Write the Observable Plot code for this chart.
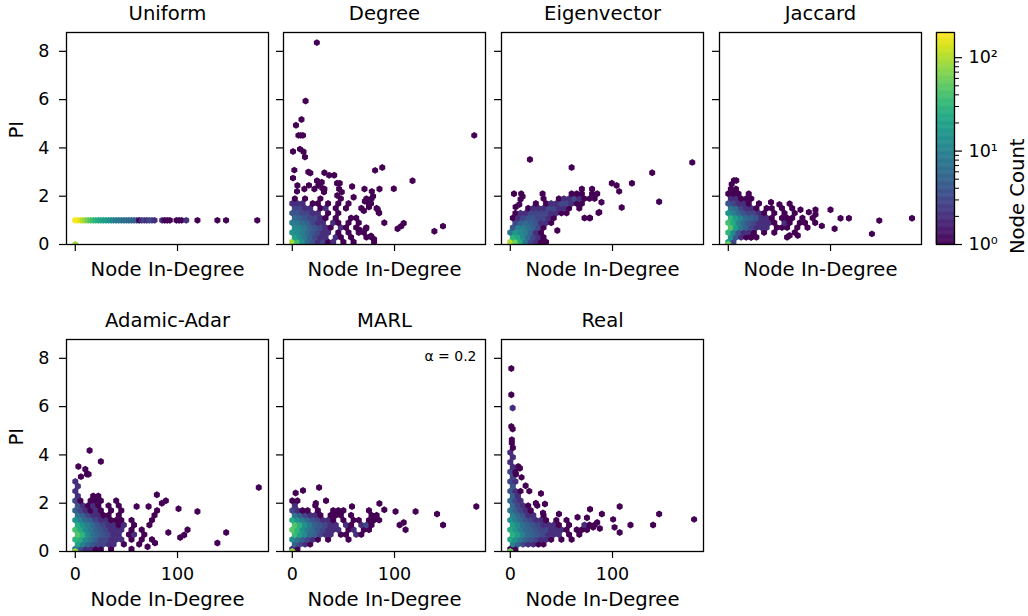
<!DOCTYPE html>
<html>
<head>
<meta charset="utf-8">
<script src="https://cdn.jsdelivr.net/npm/d3@7"></script>
<script src="https://cdn.jsdelivr.net/npm/@observablehq/plot@0.6"></script>
<style>
  body { margin: 0; background: #fff; }
  #fig { position: relative; width: 1028px; height: 616px; overflow: hidden; background: #fff;
         font-family: "DejaVu Sans", sans-serif; }
  #fig svg { position: absolute; }
</style>
</head>
<body>
<div id="fig"></div>
<script>
// ---- Axes and scales -------------------------------------------------------
const xTicks = [0, 100];
const yTicks = [0, 2, 4, 6, 8];
const xDomain = [-8.6, 189];
const yDomain = [0, 8.78];
const countDomain = [1, 186];
const countMajorTicks = [1, 10, 100];
const countMinorTicks = [2, 3, 4, 5, 6, 7, 8, 9, 20, 30, 40, 50, 60, 70, 80, 90];
const xLabel = "Node In-Degree";
const yLabel = "PI";
const colorLabel = "Node Count";
const panelTitles = ["Uniform", "Degree", "Eigenvector", "Jaccard", "Adamic-Adar", "MARL", "Real"];
const marlNote = "α = 0.2";

// ---- Hexbin cells: rows are [PI, [[in-degree, node count], ...]] ---------
// single cells are [in-degree, PI, node count (default 1)]
const uniformSingles = [
  [0, 0, 90],
  [0, 1, 170], [2.5, 1, 186], [5, 1, 140], [7.5, 1, 105], [10, 1, 80], [12.5, 1, 60], [15, 1, 45],
  [17.5, 1, 36], [20, 1, 30], [22.5, 1, 26], [25, 1, 23], [27.5, 1, 20], [30, 1, 18], [32.5, 1, 16],
  [35, 1, 14], [37.5, 1, 10], [40, 1, 9], [42.5, 1, 8], [45, 1, 8], [47.5, 1, 7], [50, 1, 7],
  [52.5, 1, 6], [55, 1, 6], [57.5, 1, 5], [60, 1, 5], [62.5, 1, 1], [65, 1, 2], [67.5, 1, 3],
  [70, 1, 2], [72.5, 1, 3], [75, 1, 3], [77.5, 1, 2], [85, 1, 2], [87.5, 1, 1], [90, 1, 1],
  [92.5, 1, 1], [99, 1, 1], [101.5, 1, 1], [104, 1, 1], [108.5, 1, 2], [119.5, 1, 1],
  [139, 1, 1], [147.5, 1, 1], [178, 1, 1]
];

const degreeRows = [
  [0.1, [[0,90],[5,35],[10,14],[15,6],[20,4],[25,2],[30,3],[35,1],[40,2],[50,1],[60,1],[80,1]]],
  [0.3, [[2.5,20],[7.5,12],[12.5,8],[17.5,5],[22.5,3],[27.5,2],[32.5,2],[42.5,2],[47.5,1],[57.5,1],[72.5,1],[77.5,1]]],
  [0.5, [[0,15],[5,12],[10,9],[15,6],[20,4],[25,3],[30,2],[35,2],[45,1],[55,1],[65,1],[70,1]]],
  [0.7, [[2.5,12],[7.5,10],[12.5,8],[17.5,5],[22.5,4],[27.5,3],[32.5,2],[37.5,1],[47.5,2],[52.5,1],[62.5,1],[72.5,1]]],
  [0.9, [[0,9],[5,8],[10,6],[15,5],[20,3],[25,2],[30,2],[40,2],[45,1],[55,1],[65,1],[90,1]]],
  [1.1, [[2.5,6],[7.5,5],[12.5,4],[17.5,3],[22.5,3],[27.5,2],[32.5,1],[42.5,1],[57.5,1],[62.5,1]]],
  [1.3, [[0,4],[5,4],[10,3],[15,3],[20,2],[25,2],[35,1],[45,1],[85,1]]],
  [1.5, [[2.5,3],[7.5,3],[12.5,2],[17.5,2],[27.5,1],[32.5,2],[42.5,1],[52.5,1],[67.5,1],[82.5,1]]],
  [1.7, [[0,2],[5,2],[10,2],[20,1],[25,1],[35,1],[45,1],[55,1],[75,1]]],
  [1.9, [[2.5,1],[12.5,1],[27.5,1],[47.5,1],[72.5,1],[77.5,1]]]
];
const degreeSingles = [
  [24,8.36],[13,5.94],[9,5.18],[3.6,4.94],[6,4.52],[8.3,4.52],[10.5,4.52],[178,4.52],[0.7,3.85],
  [7.5,3.95],[11,3.84],[12.4,3.62],[2,3.08],[0.7,2.75],[15.7,3.0],[17.6,2.96],[31.4,2.97],[36,2.87],
  [41,2.87],[88,3.19],[81,3.07],[117.6,2.64],[99.3,2.31],[70.6,2.3],[77.8,2.2],[85.3,2.3],[58.5,2.4],
  [43.8,2.54],[46.4,2.54],[24.2,2.64],[28.8,2.58],[31.4,2.3],[21.6,2.3],[4.6,2.2],[11.8,2.3],[16.3,2.45],
  [5,2.44],[25.5,2.44],[29.4,2.33],[31,2.17],[45.8,2.3],[48.4,2.17],[44,2.03],
  [139,0.55],[147.4,0.76],[103,0.65],[106.5,0.76],[109,0.88],[80,0.22],[77,0.35],[72,0.65],
  [83.6,1.45],[84.6,1.33],[70,1.4],[77,1.7],[79,2.0],[75,1.55],[66,0.6],[60,1.96],[71,1.79]
];

const eigenRows = [
  [0.1, [[0,100],[5,60],[10,25],[15,8],[20,3],[25,2],[30,1],[35,1]]],
  [0.3, [[2.5,30],[7.5,24],[12.5,12],[17.5,6],[22.5,3],[27.5,2],[32.5,1]]],
  [0.5, [[0,8],[5,16],[10,12],[15,9],[20,5],[25,2],[30,1]]],
  [0.7, [[2.5,4],[7.5,10],[12.5,9],[17.5,7],[22.5,5],[27.5,3],[32.5,1]]],
  [0.9, [[5,3],[10,5],[15,6],[20,5],[25,4],[30,2],[35,2],[40,1]]],
  [1.1, [[2.5,1],[7.5,2],[12.5,3],[17.5,4],[22.5,4],[27.5,3],[32.5,3],[37.5,2],[42.5,1],[77.5,1]]],
  [1.3, [[5,1],[10,2],[15,2],[20,3],[25,3],[30,3],[35,3],[40,2],[45,2],[50,1],[55,1]]],
  [1.5, [[17.5,1],[22.5,2],[27.5,2],[32.5,2],[37.5,3],[42.5,3],[47.5,2],[52.5,2],[57.5,1],[67.5,1]]],
  [1.7, [[25,1],[35,1],[40,2],[45,2],[50,3],[55,3],[60,2],[65,1],[70,1]]],
  [1.9, [[32.5,1],[47.5,1],[52.5,2],[57.5,2],[62.5,3],[67.5,2],[72.5,1],[77.5,1],[82.5,1]]],
  [2.1, [[60,1],[65,1],[70,1],[80,1],[85,1]]],
  [2.3, [[70,1],[80,1]]]
];
const eigenSingles = [
  [19.2,3.52],[60,3.19],[178,3.4],[138.8,2.97],[99.3,2.54],[104,2.44],[119,2.54],[106.5,2.2],
  [145.6,1.77],[109,1.53],[46,0.58],[78,1.1],[87,1.34],[3.6,2.1],[10.7,2.1],[12,1.99],[10,1.87],
  [5.2,1.55],[8.8,1.66],[31.6,2.1],[89.2,1.75],[86.3,1.31],[72.6,1.1]
];

const jaccardRows = [
  [0.1, [[0,20],[5,3]]],
  [0.3, [[2.5,15],[7.5,4],[12.5,2],[17.5,1],[22.5,1],[27.5,1],[57.5,1]]],
  [0.5, [[0,30],[5,12],[10,4],[15,2],[20,2],[25,1],[35,1],[45,1],[65,1]]],
  [0.7, [[2.5,45],[7.5,18],[12.5,8],[17.5,5],[22.5,3],[27.5,2],[32.5,2],[37.5,2],[47.5,1],[52.5,1],[57.5,1],[67.5,1],[77.5,1]]],
  [0.9, [[0,40],[5,25],[10,10],[15,6],[20,4],[25,3],[30,2],[35,2],[40,2],[45,1],[55,2],[60,1],[70,1],[75,1],[85,1]]],
  [1.1, [[2.5,30],[7.5,18],[12.5,10],[17.5,6],[22.5,5],[27.5,4],[32.5,2],[37.5,2],[42.5,1],[52.5,1],[57.5,1],[62.5,1],[72.5,1],[82.5,1]]],
  [1.3, [[0,15],[5,10],[10,6],[15,4],[20,3],[25,3],[30,2],[35,1],[45,1],[55,1],[65,1]]],
  [1.5, [[2.5,8],[7.5,6],[12.5,3],[17.5,2],[22.5,2],[27.5,1],[37.5,1],[42.5,1],[52.5,1],[62.5,1]]],
  [1.7, [[0,4],[5,3],[10,2],[15,2],[20,1],[30,1]]],
  [1.9, [[2.5,2],[7.5,2],[12.5,1],[17.5,1],[22.5,1]]],
  [2.1, [[0,1],[5,1],[10,1],[20,1]]],
  [2.3, [[2.5,1],[7.5,1]]]
];
const jaccardSingles = [
  [0,0,60],[5.5,2.65],[7.8,2.65],[3.3,2.5],[41.8,1.75],[50,1.66],[60,1.69],[70.6,1.44],[78.8,1.34],
  [85.3,1.44],[85.3,1.24],[100,1.44],[91.5,0.77],[104,0.65],[109.8,1.09],[118,1.09],[140.5,0.44],
  [147.7,0.99],[179.7,1.09],[68,0.37],[60,0.37],[22,0.3]
];

const adamicRows = [
  [0.1, [[0,8],[5,4],[10,2],[15,2],[20,1],[25,1],[35,1],[55,1]]],
  [0.3, [[2.5,20],[7.5,10],[12.5,6],[17.5,4],[22.5,3],[27.5,3],[32.5,2],[37.5,2],[47.5,1],[62.5,1]]],
  [0.5, [[0,30],[5,25],[10,12],[15,8],[20,5],[25,3],[30,3],[35,2],[40,2],[45,2],[55,1],[65,1],[75,1]]],
  [0.7, [[2.5,45],[7.5,30],[12.5,12],[17.5,7],[22.5,5],[27.5,4],[32.5,3],[37.5,2],[42.5,2],[52.5,1],[57.5,2],[67.5,1]]],
  [0.9, [[0,40],[5,25],[10,12],[15,8],[20,5],[25,4],[30,3],[35,2],[40,2],[45,2],[55,1],[65,1]]],
  [1.1, [[2.5,25],[7.5,15],[12.5,9],[17.5,6],[22.5,4],[27.5,3],[32.5,2],[37.5,2],[42.5,1],[47.5,2],[57.5,1],[72.5,1]]],
  [1.3, [[0,15],[5,10],[10,6],[15,5],[20,3],[25,2],[30,2],[35,1],[40,1],[45,1],[55,1],[75,1]]],
  [1.5, [[2.5,8],[7.5,5],[12.5,3],[17.5,2],[22.5,2],[27.5,1],[32.5,1],[42.5,1],[77.5,1]]],
  [1.7, [[0,5],[5,3],[10,2],[15,1],[20,2],[25,1],[35,1],[45,1],[80,1]]],
  [1.9, [[2.5,4],[7.5,2],[12.5,1],[17.5,2],[22.5,1],[32.5,1],[42.5,1]]],
  [2.1, [[0,3],[5,1],[15,1],[20,1],[25,1],[40,1]]],
  [2.3, [[2.5,2],[17.5,1],[22.5,1]]],
  [2.5, [[0,2]]],
  [2.7, [[2.5,2]]],
  [2.9, [[0,2]]]
];
const adamicSingles = [
  [0,0,80],[14,4.18],[25,3.73],[3,3.52],[9.8,3.41],[11.4,3.2],[13,3.2],[5.5,3.1],[179.5,2.65],
  [79.8,2.35],[88.6,2.1],[84.7,2.0],[71.7,1.86],[60,1.86],[101,1.77],[119.5,1.66],[91,0.79],
  [109.8,0.9],[106.5,0.68],[102.6,0.58],[147.6,0.79],[139,0.35],[78,0.35],[70.7,0.2]
];

const marlRows = [
  [0.1, [[0,2],[5,1]]],
  [0.3, [[2.5,5],[7.5,3],[12.5,2],[17.5,1]]],
  [0.5, [[0,12],[5,8],[10,5],[15,3],[20,2],[25,1],[35,1],[55,1]]],
  [0.7, [[2.5,35],[7.5,20],[12.5,12],[17.5,6],[22.5,5],[27.5,3],[32.5,2],[37.5,2],[47.5,1],[52.5,1],[62.5,2],[67.5,1]]],
  [0.9, [[0,50],[5,30],[10,15],[15,8],[20,6],[25,4],[30,3],[35,2],[40,2],[45,2],[55,1],[60,2],[70,1],[75,1]]],
  [1.1, [[2.5,45],[7.5,28],[12.5,14],[17.5,8],[22.5,5],[27.5,4],[32.5,3],[37.5,2],[42.5,2],[52.5,2],[57.5,1],[67.5,2],[72.5,3],[77.5,1]]],
  [1.3, [[0,25],[5,15],[10,9],[15,6],[20,4],[25,3],[30,2],[35,2],[40,1],[50,1],[60,1],[65,1],[75,1],[80,1],[85,1]]],
  [1.5, [[2.5,8],[7.5,5],[12.5,3],[17.5,2],[22.5,2],[27.5,1],[37.5,1],[42.5,1],[47.5,1],[57.5,1],[77.5,1],[82.5,1]]],
  [1.7, [[0,3],[5,2],[10,1],[15,1],[25,1],[40,1],[45,1],[50,1],[75,1]]],
  [1.9, [[2.5,2],[22.5,1]]],
  [2.1, [[0,1],[5,1],[33,1]]]
];
const marlSingles = [
  [0,0,80],[180,1.86],[141.6,1.55],[147.5,1.1],[120.6,1.66],[101,1.66],[105,1.1],[109,1.2],
  [110.8,0.9],[85.2,1.99],[90,1.73],[58.4,1.86],[26.2,2.65],[10.5,2.53],[3.3,2.42],[23,2.0]
];

const realRows = [
  [0.1, [[0,1],[5,1]]],
  [0.3, [[2.5,10],[7.5,5],[12.5,3],[17.5,2],[22.5,2],[27.5,1],[32.5,1]]],
  [0.5, [[0,22],[5,14],[10,8],[15,5],[20,4],[25,3],[30,2],[35,2],[40,1],[50,1],[60,1]]],
  [0.7, [[2.5,28],[7.5,18],[12.5,10],[17.5,6],[22.5,5],[27.5,4],[32.5,3],[37.5,2],[42.5,2],[47.5,2],[57.5,1],[67.5,1]]],
  [0.9, [[0,25],[5,16],[10,9],[15,6],[20,5],[25,4],[30,3],[35,3],[40,2],[45,2],[50,2],[55,1],[65,1],[70,1],[75,1]]],
  [1.1, [[2.5,20],[7.5,12],[12.5,7],[17.5,5],[22.5,4],[27.5,3],[32.5,2],[37.5,2],[42.5,2],[47.5,1],[57.5,1],[72.5,2],[77.5,1],[82.5,1]]],
  [1.3, [[0,15],[5,9],[10,6],[15,4],[20,3],[25,2],[30,2],[35,1],[45,1],[55,1]]],
  [1.5, [[2.5,10],[7.5,6],[12.5,4],[17.5,2],[22.5,2],[32.5,1]]],
  [1.7, [[0,8],[5,5],[10,3],[15,2],[20,1]]],
  [1.9, [[2.5,6],[7.5,3],[12.5,2],[17.5,1]]],
  [2.1, [[0,6],[5,3],[10,2]]],
  [2.3, [[2.5,5],[7.5,2]]],
  [2.5, [[0,4],[5,2]]],
  [2.7, [[2.5,4]]],
  [2.9, [[0,3],[5,2]]],
  [3.1, [[2.5,3]]],
  [3.3, [[0,3],[5,1]]],
  [3.5, [[2.5,2]]],
  [3.7, [[0,2]]],
  [3.9, [[2.5,2]]],
  [4.1, [[0,2]]],
  [4.3, [[2.5,1]]]
];
const realSingles = [
  [0,0,60],[1,7.58],[1,6.49],[2.3,5.94,2],[1,5.18],[2.3,5.07],[1.5,4.63],[1.5,4.49],
  [7.8,3.52],[9.4,3.45],[5.5,3.2],[11,3.07],[15,2.72],[10,2.5],[18.6,2.5],[30,2.4],[25,2.0],
  [33.9,1.97],[26.4,1.9],[32,1.6],
  [179.8,1.33],[145.6,1.55],[139.7,1.1],[117.6,1.1],[107,1.86],[100.6,1.33],[102,1.0],[107,0.79],
  [89.6,1.55],[85,1.2],[87.6,0.95],[81,1.0],[78,1.75],[75,1.4],[65.8,1.42],[47.6,1.55]
];

// ---- Helpers ---------------------------------------------------------------
function cellsOf(rows, singles) {
  const fromRows = rows.flatMap(([pi, bins]) => bins.map(([deg, n]) => [deg, pi, n]));
  return fromRows.concat(singles.map(([deg, pi, n = 1]) => [deg, pi, n]));
}

const panels = [
  {title: panelTitles[0], cells: cellsOf([], uniformSingles)},
  {title: panelTitles[1], cells: cellsOf(degreeRows, degreeSingles)},
  {title: panelTitles[2], cells: cellsOf(eigenRows, eigenSingles)},
  {title: panelTitles[3], cells: cellsOf(jaccardRows, jaccardSingles)},
  {title: panelTitles[4], cells: cellsOf(adamicRows, adamicSingles)},
  {title: panelTitles[5], cells: cellsOf(marlRows, marlSingles), note: marlNote},
  {title: panelTitles[6], cells: cellsOf(realRows, realSingles)}
];

const fig = document.getElementById("fig");
const FONT = "DejaVu Sans";
const ML = 66, MT = 32, MR = 12, MB = 64, FW = 202, FH = 212;
const colLeft = c => 65.8 + c * 217.6;
const rowTop = r => r === 0 ? 32 : 339.3;
const colorScale = {type: "log", scheme: "viridis", domain: countDomain};
const noLabel = () => "";
const LABEL_SIZE = 19.6, TICK_SIZE = 17.5;

function place(svg, left, top) {
  svg.style.left = left + "px";
  svg.style.top = top + "px";
  fig.appendChild(svg);
}

panels.forEach((p, i) => {
  const col = i % 4, row = Math.floor(i / 4);
  const isLeft = col === 0, isBottom = row === 1;
  const marks = [
    Plot.dot(p.cells, {x: d => d[0], y: d => d[1], fill: d => d[2], r: 3, symbol: "hexagon", clip: true}),
    Plot.frame({stroke: "black", strokeWidth: 1.3}),
    Plot.axisY({ticks: yTicks, tickSize: 7, tickPadding: 10, strokeWidth: 1.2, stroke: "black",
      fontSize: TICK_SIZE, fill: "black", label: null, tickFormat: isLeft ? undefined : noLabel}),
    Plot.axisX({ticks: xTicks, tickSize: 7, tickPadding: 9, strokeWidth: 1.2, stroke: "black",
      fontSize: TICK_SIZE, fill: "black", label: null, tickFormat: isBottom ? undefined : noLabel}),
    Plot.text([p.title], {text: d => d, frameAnchor: "top", lineAnchor: "bottom", dy: -12.6, fontSize: LABEL_SIZE, fill: "black"}),
    Plot.text([xLabel], {text: d => d, frameAnchor: "bottom", lineAnchor: "bottom", dy: isBottom ? 54.3 : 31.7, fontSize: LABEL_SIZE, fill: "black"})
  ];
  if (isLeft) {
    marks.push(Plot.text([yLabel], {text: d => d, frameAnchor: "left", rotate: -90, dx: -49.8, fontSize: LABEL_SIZE, fill: "black"}));
  }
  if (p.note) {
    marks.push(Plot.text([p.note], {text: d => d, frameAnchor: "top-right", textAnchor: "end", lineAnchor: "bottom", dx: -9, dy: 21, fontSize: 14, fill: "black"}));
  }
  const svg = Plot.plot({
    width: ML + FW + MR,
    height: MT + FH + MB,
    marginLeft: ML, marginRight: MR, marginTop: MT, marginBottom: MB,
    style: {background: "transparent", fontFamily: FONT, color: "black", overflow: "visible"},
    x: {domain: xDomain},
    y: {domain: yDomain},
    color: colorScale,
    marks
  });
  place(svg, colLeft(col) - ML, rowTop(row) - MT);
});

// ---- Colorbar -----------------------------------------------------------
const steps = 240;
const ramp = d3.range(steps).map(i => {
  const lo = countDomain[0] * Math.pow(countDomain[1] / countDomain[0], i / steps);
  const hi = countDomain[0] * Math.pow(countDomain[1] / countDomain[0], (i + 1) / steps);
  return {lo, hi, mid: Math.sqrt(lo * hi)};
});
const supers = {"0": "⁰", "1": "¹", "2": "²"};
const cbML = 2, cbMR = 90, cbW = 18;
const cb = Plot.plot({
  width: cbML + cbW + cbMR,
  height: MT + FH + MB,
  marginLeft: cbML, marginRight: cbMR, marginTop: MT, marginBottom: MB,
  style: {background: "transparent", fontFamily: FONT, color: "black", overflow: "visible"},
  x: {domain: [0, 1], axis: null},
  y: {type: "log", domain: countDomain, axis: null},
  color: colorScale,
  marks: [
    Plot.rect(ramp, {x1: 0, x2: 1, y1: "lo", y2: "hi", fill: "mid", stroke: "mid", strokeWidth: 0.5}),
    Plot.frame({stroke: "black", strokeWidth: 1.3}),
    Plot.axisY({ticks: countMinorTicks, anchor: "right", tickSize: 4, strokeWidth: 1, stroke: "black",
      label: null, tickFormat: noLabel}),
    Plot.axisY({ticks: countMajorTicks, anchor: "right", tickSize: 7, tickPadding: 7, strokeWidth: 1.2,
      stroke: "black", fontSize: TICK_SIZE, fill: "black", label: null,
      tickFormat: d => "10" + supers[String(Math.round(Math.log10(d)))]}),
    Plot.text([colorLabel], {text: d => d, frameAnchor: "right", rotate: -90, dx: 63.5, fontSize: LABEL_SIZE, fill: "black"})
  ]
});
place(cb, 936 - cbML, 32 - MT);
</script>
</body>
</html>
